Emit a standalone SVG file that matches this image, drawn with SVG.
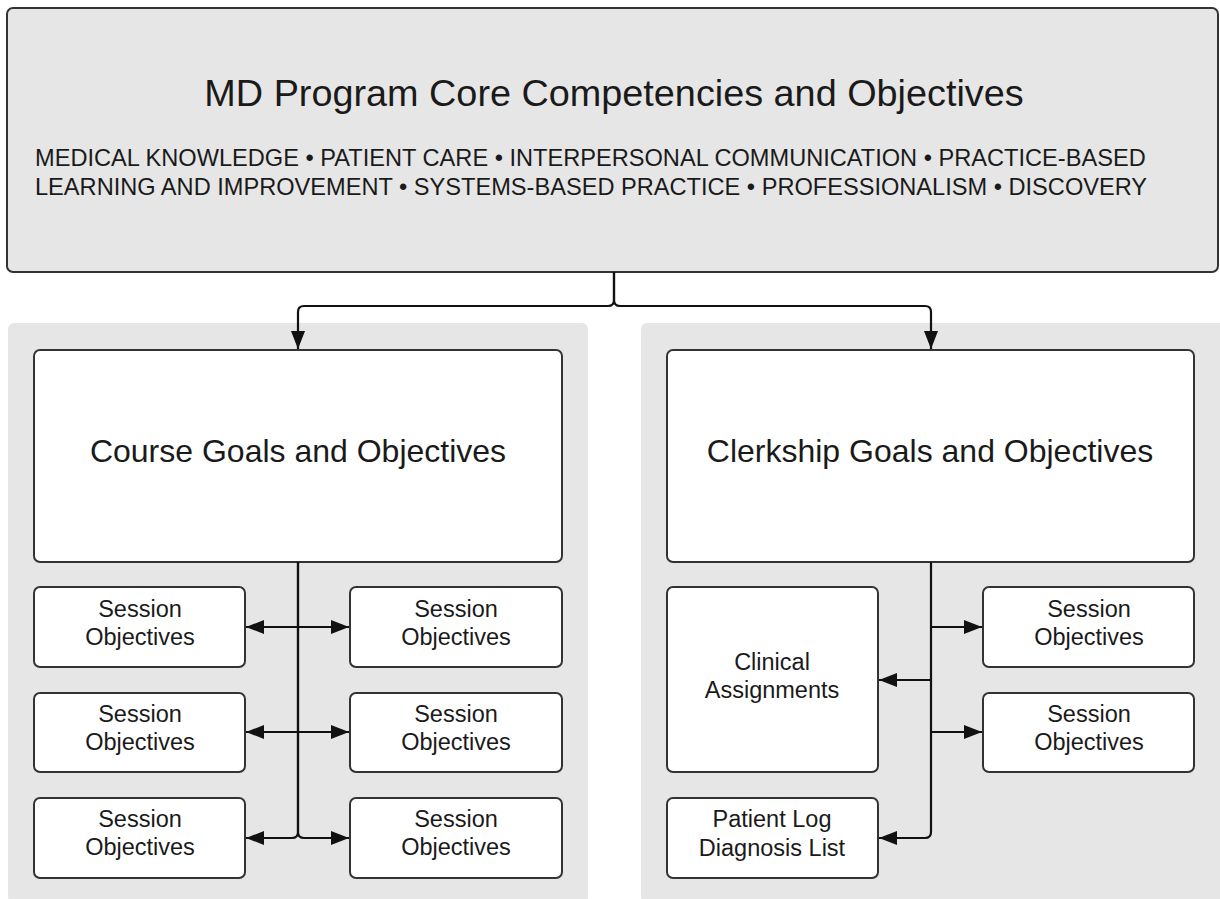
<svg xmlns="http://www.w3.org/2000/svg" width="1220" height="899" viewBox="0 0 1220 899">
<defs>
<marker id="ah" viewBox="0 0 18 14" refX="18" refY="7" markerWidth="18" markerHeight="14" markerUnits="userSpaceOnUse" orient="auto">
<path d="M0,0 L18,7 L0,14 Z" fill="#111"/>
</marker>
<style>
text{font-family:"Liberation Sans",Arial,sans-serif;fill:#1a1a1a;text-anchor:middle}
.panel{fill:#e6e6e6}
.top{fill:#e6e6e6;stroke:#333;stroke-width:2}
.box{fill:#fff;stroke:#333;stroke-width:2}
.c{fill:none;stroke:#111;stroke-width:2.2}
.sm{font-size:23.5px}
.big{font-size:32px}
.comp{font-size:23.6px;text-anchor:start}
</style>
</defs>
<rect x="0" y="0" width="1220" height="899" fill="#fff"/>
<rect class="panel" x="8" y="323" width="580" height="580" rx="6"/>
<rect class="panel" x="641" y="323" width="585" height="580" rx="6"/>
<g id="core">
<rect class="top" x="7" y="8" width="1211" height="264" rx="6"/>
<text x="614" y="106" style="font-size:37.8px">MD Program Core Competencies and Objectives</text>
<text class="comp" x="35" y="166">MEDICAL KNOWLEDGE • PATIENT CARE • INTERPERSONAL COMMUNICATION • PRACTICE-BASED</text>
<text class="comp" x="35" y="195">LEARNING AND IMPROVEMENT • SYSTEMS-BASED PRACTICE • PROFESSIONALISM • DISCOVERY</text>
</g>
<g id="course">
<rect class="box" x="34" y="350" width="528" height="212" rx="6"/>
<text class="big" x="298" y="462">Course Goals and Objectives</text>
</g>
<g id="clerkship">
<rect class="box" x="667" y="350" width="527" height="212" rx="6"/>
<text class="big" x="930" y="462">Clerkship Goals and Objectives</text>
</g>
<g id="s1"><rect class="box" x="34" y="587" width="211" height="80" rx="6"/><text class="sm" x="140" y="617">Session</text><text class="sm" x="140" y="645">Objectives</text></g>
<g id="s2"><rect class="box" x="350" y="587" width="212" height="80" rx="6"/><text class="sm" x="456" y="617">Session</text><text class="sm" x="456" y="645">Objectives</text></g>
<g id="s3"><rect class="box" x="34" y="693" width="211" height="79" rx="6"/><text class="sm" x="140" y="722">Session</text><text class="sm" x="140" y="750">Objectives</text></g>
<g id="s4"><rect class="box" x="350" y="693" width="212" height="79" rx="6"/><text class="sm" x="456" y="722">Session</text><text class="sm" x="456" y="750">Objectives</text></g>
<g id="s5"><rect class="box" x="34" y="798" width="211" height="80" rx="6"/><text class="sm" x="140" y="827">Session</text><text class="sm" x="140" y="855">Objectives</text></g>
<g id="s6"><rect class="box" x="350" y="798" width="212" height="80" rx="6"/><text class="sm" x="456" y="827">Session</text><text class="sm" x="456" y="855">Objectives</text></g>
<g id="clinical"><rect class="box" x="667" y="587" width="211" height="185" rx="6"/><text class="sm" x="772" y="670">Clinical</text><text class="sm" x="772" y="698">Assignments</text></g>
<g id="s7"><rect class="box" x="983" y="587" width="211" height="80" rx="6"/><text class="sm" x="1089" y="617">Session</text><text class="sm" x="1089" y="645">Objectives</text></g>
<g id="s8"><rect class="box" x="983" y="693" width="211" height="79" rx="6"/><text class="sm" x="1089" y="722">Session</text><text class="sm" x="1089" y="750">Objectives</text></g>
<g id="patientlog"><rect class="box" x="667" y="798" width="211" height="80" rx="6"/><text class="sm" x="772" y="827">Patient Log</text><text class="sm" x="772" y="856">Diagnosis List</text></g>
<g id="connectors">
<path class="c" d="M614,272 V300 Q614,306 608,306 H304 Q298,306 298,312 V349" marker-end="url(#ah)"/>
<path class="c" d="M614,272 V300 Q614,306 620,306 H925 Q931,306 931,312 V349" marker-end="url(#ah)"/>
<path class="c" d="M298,562 V832 Q298,838 292,838 H246" marker-end="url(#ah)"/>
<path class="c" d="M298,562 V832 Q298,838 304,838 H349" marker-end="url(#ah)"/>
<path class="c" d="M298,627 H246" marker-end="url(#ah)"/>
<path class="c" d="M298,627 H349" marker-end="url(#ah)"/>
<path class="c" d="M298,732 H246" marker-end="url(#ah)"/>
<path class="c" d="M298,732 H349" marker-end="url(#ah)"/>
<path class="c" d="M931,562 V832 Q931,838 925,838 H879" marker-end="url(#ah)"/>
<path class="c" d="M931,627 H982" marker-end="url(#ah)"/>
<path class="c" d="M931,732 H982" marker-end="url(#ah)"/>
<path class="c" d="M931,680 H879" marker-end="url(#ah)"/>
</g>
</svg>
